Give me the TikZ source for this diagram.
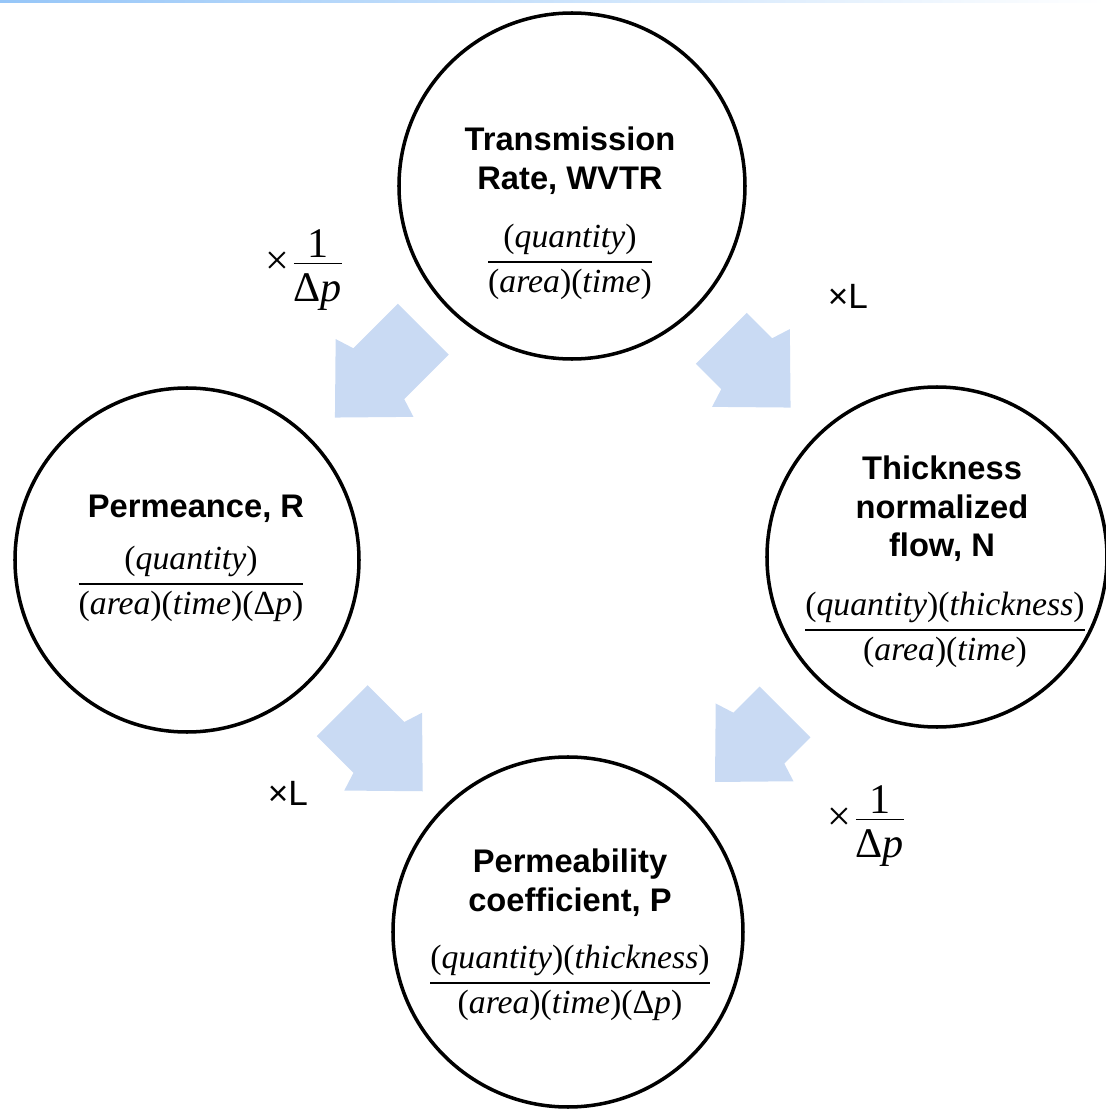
\documentclass[tikz,border=0pt]{standalone}
\usepackage{fontspec}
\setmainfont{Liberation Serif}
\setsansfont{Liberation Sans}
\usepackage{xcolor}
\usepackage{tikz}
\usetikzlibrary{positioning,calc}
\definecolor{arrowblue}{RGB}{201,218,243}
\definecolor{edgeblue}{RGB}{150,198,248}
\newcommand{\qterm}[1]{\mbox{(\textit{#1})}}
\newcommand{\dpterm}{\mbox{(Δ\textit{p})}}
\newcommand{\unitfrac}[3][0.36em]{\frac{#2\rule[-#1]{0pt}{#1}}{\rule{0pt}{0.85em}#3}}

\begin{document}
\begin{tikzpicture}[
    stage/.style={circle, draw, line width=1pt, inner sep=0pt},
    heading/.style={font=\sffamily\bfseries\fontsize{9.3}{11}\selectfont, align=center},
    ratio/.style={font=\fontsize{9.6}{11}\selectfont, inner sep=1pt},
    factor/.style={font=\fontsize{12}{14}\selectfont, inner sep=1pt},
    times/.style={font=\sffamily\fontsize{10}{12}\selectfont, inner sep=1pt},
    pics/flowarrow/.style 2 args={code={
        \fill [arrowblue] (#1,0) -- (#1-0.56,0.55) -- (#1-0.62,0.36) -- (-#2,0.36)
            -- (-#2,-0.36) -- (#1-0.62,-0.36) -- (#1-0.56,-0.55) -- cycle;
    }}
]
    \useasboundingbox (0,0) rectangle (11.06,11.10);
    % thin rule along the top edge
    \shade [left color=edgeblue, right color=white] (0,11.08) rectangle (11.06,11.10);

    % Stages
    \node [stage, minimum size=3.46cm] (WVTR) at (5.72,9.24) {};
    \node [stage, minimum size=3.44cm] (R) at (1.87,5.50) {};
    \node [stage, minimum size=3.40cm] (N) at (9.37,5.53) {};
    \node [stage, minimum size=3.50cm] (P) at (5.68,1.78) {};

    % Transmission rate
    \node [heading] (WVTRtitle) at ($(WVTR)+(-0.02,0.25)$) {Transmission\\Rate, WVTR};
    \node [ratio] (WVTRunit) at ($(WVTR)+(-0.02,-0.76)$)
        {$\unitfrac{\qterm{quantity}}{\qterm{area}\qterm{time}}$};

    % Permeance
    \node [heading] (Rtitle) at ($(R)+(0.09,0.51)$) {Permeance, R};
    \node [ratio] (Runit) at ($(R)+(0.04,-0.24)$)
        {$\unitfrac{\qterm{quantity}}{\qterm{area}\qterm{time}\dpterm}$};

    % Thickness normalized flow
    \node [heading] (Ntitle) at ($(N)+(0.05,0.48)$) {Thickness\\normalized\\flow, N};
    \node [ratio] (Nunit) at ($(N)+(0.08,-0.73)$)
        {$\unitfrac{\qterm{quantity}\qterm{thickness}}{\qterm{area}\qterm{time}}$};

    % Permeability coefficient
    \node [heading] (Ptitle) at ($(P)+(0.02,0.49)$) {Permeability\\coefficient, P};
    \node [ratio] (Punit) at ($(P)+(0.02,-0.51)$)
        {$\unitfrac{\qterm{quantity}\qterm{thickness}}{\qterm{area}\qterm{time}\dpterm}$};

    % Conversion arrows
    \pic [rotate=225] at ($(WVTR)!0.5!(R)$) {flowarrow={0.63}{0.62}};
    \pic [rotate=-45] at ($(WVTR)!0.5!(N)$) {flowarrow={0.51}{0.47}};
    \pic [rotate=-45] at ($(R)!0.5!(P)$) {flowarrow={0.64}{0.50}};
    \pic [rotate=225] at ($(N)!0.5!(P)$) {flowarrow={0.53}{0.46}};

    % Factors
    \node [factor] (byDp1) at (3.06,8.40) {$\mbox{×}\unitfrac[0.1em]{\mbox{1}}{\mbox{Δ\textit{p}}}$};
    \node [times] (byL1) at (8.48,8.14) {×L};
    \node [times] (byL2) at (2.88,3.17) {×L};
    \node [factor] (byDp2) at (8.68,2.84) {$\mbox{×}\unitfrac[0.1em]{\mbox{1}}{\mbox{Δ\textit{p}}}$};
\end{tikzpicture}
\end{document}
